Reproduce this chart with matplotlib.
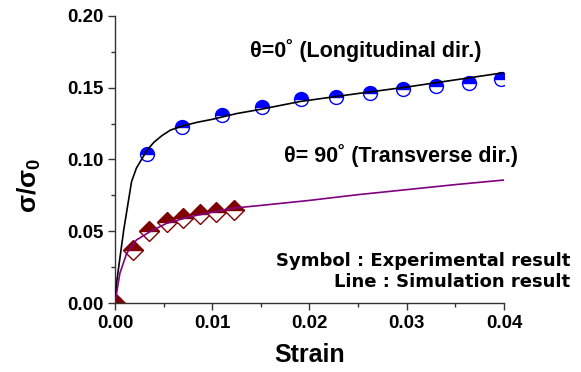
import matplotlib
matplotlib.use("Agg")
import matplotlib.pyplot as plt
from matplotlib.ticker import MultipleLocator, FormatStrFormatter

plt.rcParams['font.family'] = ['Liberation Sans', 'DejaVu Sans']
plt.rcParams['font.weight'] = 'bold'
plt.rcParams['mathtext.fontset'] = 'custom'
plt.rcParams['mathtext.rm'] = 'Liberation Sans:bold'
plt.rcParams['mathtext.it'] = 'Liberation Sans:bold'
plt.rcParams['mathtext.bf'] = 'Liberation Sans:bold'

# Experimental data (symbols)
exp0_strain = [0, 0.0033, 0.0069, 0.0110, 0.0151, 0.0191, 0.0227, 0.0262, 0.0296, 0.0330, 0.0364, 0.0397]
exp0_stress = [0, 0.1038, 0.1227, 0.1313, 0.1366, 0.1420, 0.1438, 0.1466, 0.1489, 0.1514, 0.1535, 0.1559]
exp90_strain = [0, 0.0019, 0.0035, 0.0053, 0.0070, 0.0087, 0.0104, 0.0122]
exp90_stress = [0, 0.0369, 0.0502, 0.0564, 0.0595, 0.0618, 0.0634, 0.0650]

# Simulation data (lines)
sim0_strain = [0, 0.0002, 0.0009, 0.0017, 0.0022, 0.0027, 0.0033, 0.0040, 0.0048, 0.0057,
               0.0070, 0.0085, 0.0100, 0.0125, 0.0150, 0.0191, 0.0250, 0.0300, 0.0350, 0.0400]
sim0_stress = [0, 0.016, 0.051, 0.0845, 0.094, 0.0997, 0.1065, 0.112, 0.1165, 0.1205,
               0.1235, 0.126, 0.128, 0.132, 0.135, 0.1405, 0.146, 0.1505, 0.1555, 0.1605]
sim90_strain = [0, 0.0005, 0.0012, 0.0022, 0.0036, 0.0053, 0.0077, 0.0120, 0.0150, 0.0200,
                0.0250, 0.0300, 0.0350, 0.0400]
sim90_stress = [0, 0.0207, 0.0346, 0.0439, 0.0497, 0.0555, 0.0601, 0.0660, 0.0680, 0.0715,
                0.0755, 0.0790, 0.0825, 0.0857]

fig = plt.figure(figsize=(5.81, 3.72), dpi=100)
ax = fig.add_axes([115/581, 1-303/372, (504-115)/581, (303-16)/372])

ax.plot(exp0_strain, exp0_stress, linestyle='none', marker='o', markersize=10,
        color='#0000ff', markeredgecolor='#0000ff', fillstyle='top',
        markerfacecoloralt='white', markeredgewidth=1.0, zorder=2)
ax.plot(exp90_strain, exp90_stress, linestyle='none', marker='D', markersize=10,
        color='#800000', markeredgecolor='#800000', fillstyle='top',
        markerfacecoloralt='white', markeredgewidth=1.0, zorder=2)
ax.plot(sim0_strain, sim0_stress, color='black', linewidth=1.2, zorder=3)
ax.plot(sim90_strain, sim90_stress, color='#800080', linewidth=1.2, zorder=3)

ax.set_xlim(0, 0.04)
ax.set_ylim(0, 0.20)
ax.xaxis.set_major_locator(MultipleLocator(0.01))
ax.xaxis.set_minor_locator(MultipleLocator(0.005))
ax.yaxis.set_major_locator(MultipleLocator(0.05))
ax.yaxis.set_minor_locator(MultipleLocator(0.025))
ax.xaxis.set_major_formatter(FormatStrFormatter('%.2f'))
ax.yaxis.set_major_formatter(FormatStrFormatter('%.2f'))
ax.spines['top'].set_visible(False)
ax.spines['right'].set_visible(False)
for s in ('left', 'bottom'):
    ax.spines[s].set_color('#333333')
    ax.spines[s].set_linewidth(1.0)
ax.tick_params(which='major', direction='out', length=5, width=1, colors='#333333',
               labelsize=13.5, labelcolor='black')
ax.tick_params(axis='x', which='major', pad=4)
ax.tick_params(axis='y', which='major', pad=3)
ax.tick_params(which='minor', direction='out', length=3, width=1, colors='#333333')
for lab in ax.get_xticklabels() + ax.get_yticklabels():
    lab.set_fontweight('bold')

ax.set_xlabel('Strain', fontsize=18, fontweight='bold')
ax.xaxis.set_label_coords(0.5, -0.14)
ax.set_ylabel('σ/σ$_0$', fontsize=19, fontweight='bold')
ax.yaxis.set_label_coords(-0.185, 0.41)

ax.text(0.01388, 0.1714, 'θ=0˚ (Longitudinal dir.)', fontsize=15.5, fontweight='bold')
ax.text(0.01740, 0.0983, 'θ= 90˚ (Transverse dir.)', fontsize=15.5, fontweight='bold')
ax.text(0.0468, 0.0258, 'Symbol : Experimental result', fontsize=13, fontweight='heavy',
        ha='right', clip_on=False, family=['DejaVu Sans'])
ax.text(0.0468, 0.0111, 'Line : Simulation result', fontsize=13, fontweight='heavy',
        ha='right', clip_on=False, family=['DejaVu Sans'])

fig.savefig('out.png', dpi=100)
